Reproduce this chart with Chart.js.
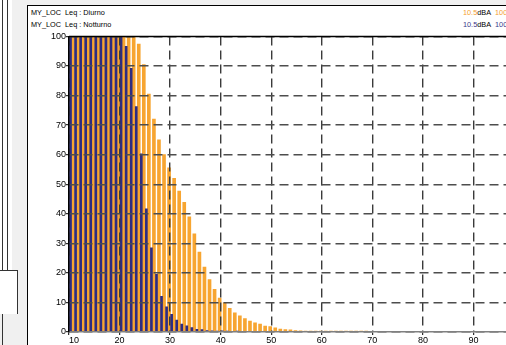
<!DOCTYPE html>
<html>
<head>
<meta charset="utf-8">
<title>Leq</title>
<script src="https://cdn.jsdelivr.net/npm/chart.js@4.4.1/dist/chart.umd.min.js"></script>
<style>
  html, body { margin: 0; padding: 0; width: 506px; height: 345px; overflow: hidden; background: #f0f0f0; font-family: "Liberation Sans", Arial, sans-serif; }
  .side { position: absolute; background: #fff; }
  .vline { position: absolute; width: 1px; background: #333; }
  #panel { position: absolute; left: 27px; top: 5px; width: 530px; height: 345px; background: #fff; border-left: 1px solid #000; border-top: 1px solid #000; }
  .leg { position: absolute; font-size: 7.3px; line-height: 9px; color: #000; white-space: nowrap; }
  .day { color: #f5a030; }
  .night { color: #3c3a8c; }
  #wrap { position: absolute; left: 27px; top: 31px; width: 500px; height: 314px; }
</style>
</head>
<body>
<div class="side" style="left:0;top:0;width:12px;height:313px;"></div>
<div class="vline" style="left:2px;top:0;height:345px;"></div>
<div class="vline" style="left:7px;top:0;height:313px;"></div>
<div class="side" style="left:0;top:270px;width:17px;height:43px;border-top:1px solid #333;border-right:1px solid #333;"></div>
<div id="panel"></div>
<div class="leg" style="left:31px;top:8px;">MY_LOC&nbsp; Leq : Diurno</div>
<div class="leg" style="left:31px;top:20px;">MY_LOC&nbsp; Leq : Notturno</div>
<div class="leg" style="left:463px;top:8px;"><span class="day">10.5</span>dBA&nbsp; <span class="day">100</span></div>
<div class="leg" style="left:463px;top:20px;"><span class="night">10.5</span>dBA&nbsp; <span class="night">100</span></div>
<div id="wrap"><canvas id="leqChart" width="500" height="314"></canvas></div>

<script>
// livelli (dB), una classe da 1 dB
var levels = [10, 11, 12, 13, 14, 15, 16, 17, 18, 19,
              20, 21, 22, 23, 24, 25, 26, 27, 28, 29,
              30, 31, 32, 33, 34, 35, 36, 37, 38, 39,
              40, 41, 42, 43, 44, 45, 46, 47, 48, 49,
              50, 51, 52, 53, 54, 55, 56, 57, 58, 59,
              60, 61, 62, 63, 64, 65, 66, 67, 68, 69];

// Leq : Diurno
var diurno = [100, 100, 100, 100, 100, 100, 100, 100, 100, 100,
              100, 100, 100, 97.4, 90.5, 80.5, 72, 65, 60, 55.5,
              52, 47.7, 43.9, 39, 33.2, 27, 22, 17.7, 14.4, 11.5,
              9.9, 8, 6.5, 5.5, 4.5, 3.7, 3.1, 2.7, 2, 1.8,
              1.4, 1, 0.8, 0.7, 0.5, 0.4, 0.3, 0.3, 0.3, 0.3,
              0.3, 0.3, 0.3, 0.3, 0.3, 0.3, 0.3, 0.3, 0.3, 0];

// Leq : Notturno
var notturno = [100, 100, 100, 100, 100, 100, 100, 100, 100, 100,
                100, 96.6, 89.2, 76.3, 60.3, 41.7, 28.5, 19.5, 12.1, 8.5,
                6, 4, 2.7, 2.1, 1.5, 0.9, 0.8, 0.5, 0.4, 0.3,
                0.4, 0.3, 0.2, 0.3, 0.2, 0.2, 0.1, 0.1, 0.1, 0.1,
                0.1, 0, 0, 0, 0, 0, 0, 0, 0, 0,
                0, 0, 0, 0, 0, 0, 0, 0, 0, 0];

var yTicks = [0, 10, 20, 30, 40, 50, 60, 70, 80, 90, 100];
var xTicks = [10, 20, 30, 40, 50, 60, 70, 80, 90, 100];

var ORANGE = '#f7a531';
var BLUE = '#2e2c82';
var GRID = '#4d4d4d';

function toPoints(values) {
    // ogni barra al centro della sua classe da 1 dB
    return levels.map(function(l, i) { return { x: l + 0.5, y: values[i] }; });
}

// cornice superiore dell'area del grafico
var topFrame = {
    id: 'topFrame',
    afterDraw: function(chart) {
        var a = chart.chartArea, ctx = chart.ctx;
        ctx.save();
        ctx.strokeStyle = '#000';
        ctx.lineWidth = 1.5;
        ctx.beginPath();
        ctx.moveTo(a.left, a.top);
        ctx.lineTo(a.right, a.top);
        ctx.stroke();
        ctx.restore();
    }
};

var tickFont = { family: '"Liberation Sans", Arial, sans-serif', size: 9 };

new Chart(document.getElementById('leqChart'), {
    type: 'bar',
    data: {
        datasets: [{
            label: 'MY_LOC Leq : Notturno',
            data: toPoints(notturno),
            backgroundColor: BLUE,
            barThickness: 2
        }, {
            label: 'MY_LOC Leq : Diurno',
            data: toPoints(diurno),
            backgroundColor: ORANGE,
            barThickness: 3
        }]
    },
    plugins: [topFrame],
    options: {
        responsive: false,
        animation: false,
        layout: { padding: { top: 2, right: 3, left: 0, bottom: 0 } },
        plugins: {
            legend: { display: false },
            tooltip: { enabled: false }
        },
        scales: {
            x: {
                type: 'linear',
                offset: false,
                min: xTicks[0],
                max: xTicks[xTicks.length - 1],
                afterBuildTicks: function(s) { s.ticks = xTicks.map(function(v) { return { value: v }; }); },
                afterFit: function(s) { s.height = 13; },
                ticks: { align: 'inner', color: '#000', font: tickFont, padding: 0, maxRotation: 0, autoSkip: false },
                grid: { offset: false, color: '#3a3a3a', lineWidth: 1.4, tickLength: 3, tickColor: '#000', tickWidth: 1, z: 1 },
                border: { color: '#808080', width: 1.5, dash: [9, 5], z: 2 }
            },
            y: {
                min: yTicks[0],
                max: yTicks[yTicks.length - 1],
                afterBuildTicks: function(s) { s.ticks = yTicks.map(function(v) { return { value: v }; }); },
                afterFit: function(s) { s.width = 42; },
                ticks: { color: '#000', font: tickFont, padding: 0 },
                grid: { color: GRID, lineWidth: 1.4, tickLength: 3, tickColor: '#000', tickWidth: 1, z: 1 },
                border: { color: '#000', width: 1.5, dash: [9, 5], z: 2 }
            }
        }
    }
});
</script>
</body>
</html>
